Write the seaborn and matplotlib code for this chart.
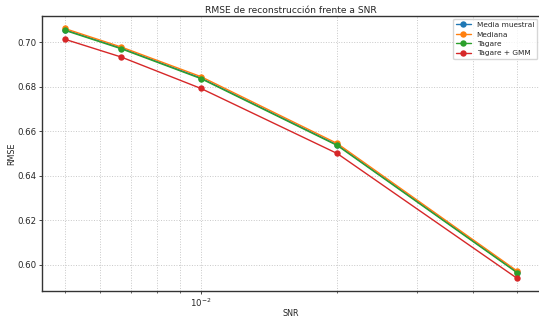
import matplotlib
matplotlib.use("Agg")
import matplotlib.pyplot as plt
import seaborn as sns
import pandas as pd

snr = [1 / 200, 1 / 150, 1 / 100, 1 / 50, 1 / 20]
media_muestral = [0.7056, 0.6973, 0.6839, 0.6539, 0.5967]
mediana = [0.7061, 0.6978, 0.6845, 0.6545, 0.5972]
tagare = [0.7053, 0.6970, 0.6836, 0.6536, 0.5964]
tagare_gmm = [0.7013, 0.6933, 0.6792, 0.6500, 0.5939]

series = {
    "Media muestral": media_muestral,
    "Mediana": mediana,
    "Tagare": tagare,
    "Tagare + GMM": tagare_gmm,
}
colors = ["#1f77b4", "#ff7f0e", "#2ca02c", "#d62728"]

sns.set_style("ticks")
plt.rcParams["font.family"] = ["DejaVu Sans"]

fig = plt.figure(figsize=(5.39, 3.20), dpi=100)
ax = fig.add_axes([42 / 539, 29 / 320, 498 / 539, 275 / 320])

for (name, vals), c in zip(series.items(), colors):
    df = pd.DataFrame({"SNR": snr, "RMSE": vals})
    sns.lineplot(data=df, x="SNR", y="RMSE", ax=ax, color=c, label=name,
                 marker="o", markersize=4.6, markeredgewidth=0, linewidth=1.0)

ax.set_xscale("log")
ax.grid(True, which="both", linestyle=":", color="#c8c8c8", linewidth=0.7)
ax.set_title("RMSE de reconstrucción frente a SNR", fontsize=6.6, pad=2.5)
ax.set_xlabel("SNR", fontsize=5.8, labelpad=0)
ax.set_ylabel("RMSE", fontsize=5.8, labelpad=1)
ax.tick_params(axis="both", which="major", labelsize=6.2, length=2.5, width=0.6, pad=1.5)
ax.tick_params(axis="both", which="minor", length=1.5, width=0.5)
for s in ax.spines.values():
    s.set_color("#333333")
    s.set_linewidth(1.0)
ax.legend(loc="upper right", fontsize=5.3, frameon=True, handlelength=2.0,
          borderpad=0.4, labelspacing=0.45, borderaxespad=0.4)

fig.savefig("out.png", dpi=100)
